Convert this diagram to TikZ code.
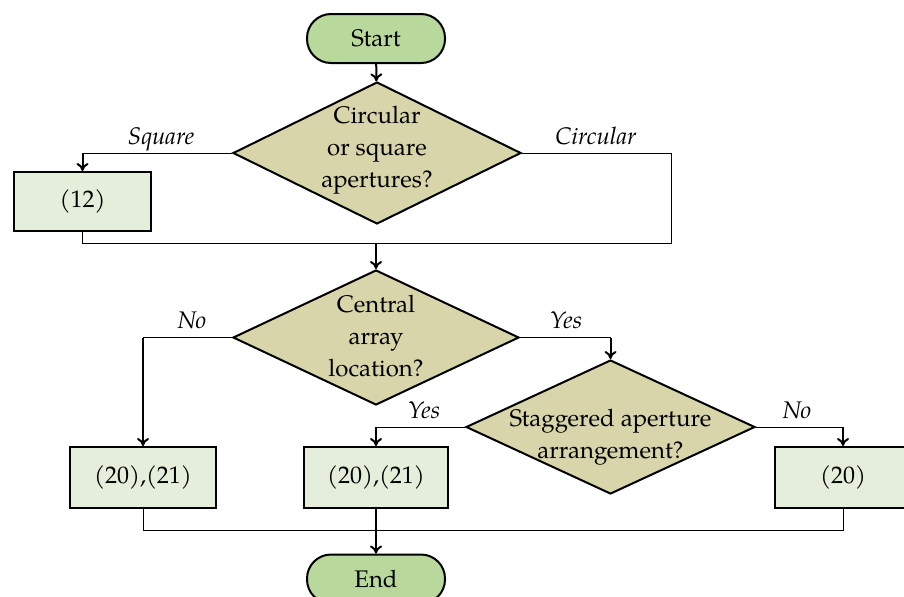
\documentclass[tikz,border=0pt]{standalone}
\usepackage{fontspec}
\setmainfont{TeX Gyre Pagella}
\usetikzlibrary{shapes.geometric,arrows.meta}
\definecolor{termfill}{HTML}{B9D89B}
\definecolor{decfill}{HTML}{D7D5A9}
\definecolor{procfill}{HTML}{E5EEDA}
\tikzset{
  term/.style={draw=black, line width=1pt, fill=termfill, rectangle,
    rounded corners=12pt, minimum width=69pt, minimum height=24.5pt, inner sep=0pt},
  decision/.style={draw=black, line width=1pt, fill=decfill, diamond,
    inner sep=0pt},
  dectext/.style={align=center, inner sep=0pt},
  proc/.style={draw=black, line width=1pt, fill=procfill, rectangle,
    minimum width=73pt, minimum height=30.5pt, inner sep=0pt},
  flowline/.style={draw=black, line width=0.5pt},
  arrowline/.style={draw=black, line width=1pt, -{To[length=4pt,width=6pt]}},
  branchlabel/.style={font=\fontsize{12}{14}\selectfont\itshape, anchor=base, inner sep=0pt}
}
\begin{document}
\begin{tikzpicture}[x=0.5pt, y=-0.5pt, font=\fontsize{12}{16}\selectfont]
  \path[use as bounding box, clip] (0,0) rectangle (904,596);

  % nodes
  \node[term] (start) at (376,38.5) {Start};
  \node[decision, minimum width=144pt, minimum height=71pt] (d1) at (377,153) {};
  \node[dectext] (d1t) at (377,150.5) {Circular\\or square\\apertures?};
  \node[proc, minimum width=68.5pt, minimum height=29.5pt] (b12) at (82.5,201.5) {(12)};
  \coordinate (j1) at (376,243);
  \coordinate (r1) at (671,243);
  \node[decision, minimum width=143pt, minimum height=67.5pt] (d2) at (376,337.5) {};
  \node[dectext] (d2t) at (376,336) {Central\\array\\location?};
  \node[decision, minimum width=144.5pt, minimum height=67pt] (d3) at (610.5,427) {};
  \node[dectext] (d3t) at (610.5,437) {Staggered aperture\\arrangement?};
  \node[proc] (b1) at (143,477.5) {(20),(21)};
  \node[proc, minimum width=72pt] (b2) at (376,477.5) {(20),(21)};
  \node[proc, minimum width=68pt] (b3) at (843,477.5) {(20)};
  \coordinate (j2) at (376,530);
  \node[term] (end) at (376,579) {End};

  % first decision
  \draw[arrowline] (start) -- (d1);
  \draw[flowline] (d1.west) -- (b12.north |- d1.west);
  \draw[arrowline] (b12.north |- d1.west) -- (b12.north);
  \node[branchlabel] (lsq) at (161,144) {Square};
  \draw[flowline] (b12.south) -- (b12.south |- j1) -- (r1) |- (d1.east);
  \node[branchlabel] (lci) at (596,144) {Circular};
  \draw[arrowline] (j1) -- (d2.north);

  % second decision
  \draw[flowline] (d2.west) -- (b1.north |- d2.west);
  \draw[arrowline] (b1.north |- d2.west) -- (b1.north);
  \node[branchlabel] (lno1) at (192,328) {No};
  \draw[flowline] (d2.east) -- (d3.north |- d2.east);
  \draw[arrowline] (d3.north |- d2.east) -- (d3.north);
  \node[branchlabel] (lye1) at (566,328) {Yes};

  % third decision
  \draw[flowline] (d3.west) -- (b2.north |- d3.west);
  \draw[arrowline] (b2.north |- d3.west) -- (b2.north);
  \node[branchlabel] (lye2) at (424,418) {Yes};
  \draw[flowline] (d3.east) -- (b3.north |- d3.east);
  \draw[arrowline] (b3.north |- d3.east) -- (b3.north);
  \node[branchlabel] (lno2) at (797,418) {No};

  % merge into the end
  \draw[flowline] (b1.south) |- (j2);
  \draw[flowline] (b3.south) |- (j2);
  \draw[arrowline] (b2.south) -- (end.north);
\end{tikzpicture}
\end{document}
